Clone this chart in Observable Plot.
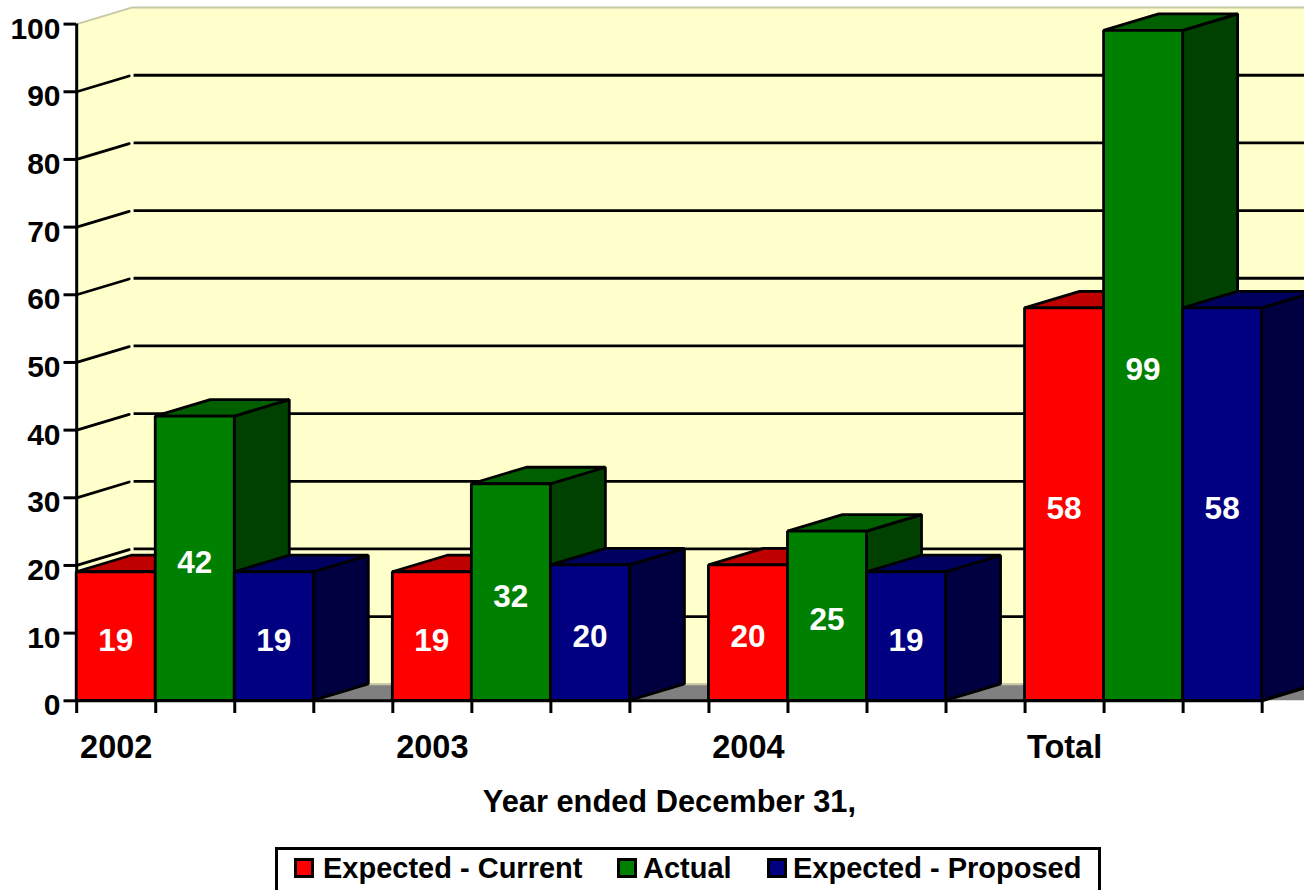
<!DOCTYPE html>
<html><head><meta charset="utf-8">
<script src="https://cdn.jsdelivr.net/npm/d3@7"></script>
<script src="https://cdn.jsdelivr.net/npm/@observablehq/plot@0.6"></script>
<style>
html,body{margin:0;padding:0;background:#fff;overflow:hidden;width:1304px;height:890px}
#chart svg{display:block;font-family:"Liberation Sans",Arial,sans-serif}
#legend{position:absolute;left:275px;top:847px;width:820px;height:40px;border:3px solid #000;border-bottom:none;font:bold 29px "Liberation Sans",Arial,sans-serif;color:#000;white-space:nowrap;background:#fff}
#legend span.s{position:absolute;top:8px;width:14px;height:14px;border:3px solid #000}
#legend span.t{position:absolute;top:2px;line-height:32px}
</style></head><body>
<div id="chart"></div>
<div id="legend"></div>
<script>
const categories = ["2002","2003","2004","Total"];
const seriesNames = ["Expected - Current","Actual","Expected - Proposed"];
const expectedCurrent = [19,19,20,58];
const actual = [42,32,25,99];
const expectedProposed = [19,20,19,58];
const yTicks = [0,10,20,30,40,50,60,70,80,90,100];
const frontColors = ["#ff0000","#008000","#000080"];
const topColors = ["#bf0000","#006000","#000060"];
const sideColors = ["#800000","#004000","#000040"];
const xAxisTitle = "Year ended December 31,";

const slotsPerGroup = 4, depthX = 0.696, depthY = 2.44, slotMax = 16;
const seriesValues = [expectedCurrent, actual, expectedProposed];
const faces = [];
categories.forEach((c, g) => {
  seriesValues.forEach((vals, s) => {
    const l = g*slotsPerGroup + s, r = l + 1, v = vals[g], key = `${g}-${s}`;
    const add = (face, fill, a, b) => {
      faces.push({z:key+face, fill, x1:a[0][0], y1:a[0][1], x2:a[1][0], y2:a[1][1]});
      faces.push({z:key+face, fill, x1:b[0][0], y1:b[0][1], x2:b[1][0], y2:b[1][1]});
    };
    add("side", sideColors[s], [[r,0],[r,v]], [[r+depthX,depthY],[r+depthX,v+depthY]]);
    add("top", topColors[s], [[l,v],[l+depthX,v+depthY]], [[r,v],[r+depthX,v+depthY]]);
    add("front", frontColors[s], [[l,0],[l,v]], [[r,0],[r,v]]);
  });
});
const labels = categories.flatMap((c,g)=>seriesValues.map((vals,s)=>({x:g*slotsPerGroup+s+.5,y:vals[g]/2,t:String(vals[g])})));
const gridTicks = yTicks.filter(t=>t>0&&t<100);
const slant = gridTicks.flatMap(t=>[{t,x:0,y:t},{t,x:depthX*.955,y:t+depthY*.955}]);
const wallEdges = [
  {k:"top",x:0,y:100},{k:"top",x:depthX,y:100+depthY},{k:"top",x:slotMax,y:100+depthY},
  {k:"floor",x:depthX,y:depthY},{k:"floor",x:slotMax,y:depthY}
];

const plot = Plot.plot({
  width:1304,height:846,marginLeft:76,marginRight:0,marginTop:23,marginBottom:146,
  x:{type:"linear",domain:[0,slotMax],range:[76.2,76.2+slotMax*79.03],axis:null},
  y:{type:"linear",domain:[0,100],range:[700.3,23.6],axis:null},
  marks:[
    // walls and floor
    Plot.rect([0],{x1:depthX,x2:slotMax,y1:depthY,y2:100+depthY,fill:"#ffffcc"}),
    Plot.area([{x:0,a:0,b:100},{x:depthX,a:depthY,b:100+depthY}],{x1:"x",y1:"a",y2:"b",fill:"#ffffcc"}),
    Plot.area([{x1:0,y1:0,x2:depthX,y2:depthY},{x1:slotMax,y1:0,x2:slotMax+depthX,y2:depthY}],{x1:"x1",y1:"y1",x2:"x2",y2:"y2",fill:"#808080"}),
    Plot.line(wallEdges,{x:"x",y:"y",z:"k",stroke:"#c8c8a8",strokeWidth:2}),
    // gridlines
    Plot.ruleY(gridTicks,{y:d=>d+depthY,x1:depthX+.03,x2:slotMax,stroke:"#000",strokeWidth:2.8}),
    Plot.line(slant,{x:"x",y:"y",z:"t",stroke:"#000",strokeWidth:2.8}),
    // axis lines
    Plot.ruleX([0],{y1:0,y2:100,stroke:"#000",strokeWidth:3}),
    // bars
    Plot.area(faces,{x1:"x1",y1:"y1",x2:"x2",y2:"y2",z:"z",fill:"fill",stroke:"#000",strokeWidth:2.8,strokeLinejoin:"bevel"}),
    Plot.ruleY([0],{x1:0,x2:15,stroke:"#000",strokeWidth:3}),
    Plot.line([{x:15,y:0},{x:15+depthX,y:depthY}],{x:"x",y:"y",stroke:"#000",strokeWidth:2.8}),
    // value labels
    Plot.text(labels,{x:"x",y:"y",text:"t",fill:"#fff",fontSize:31.5,fontWeight:"bold",dy:4,dx:-0.5}),
    // axes
    Plot.axisY(yTicks,{anchor:"left",tickSize:12.5,strokeWidth:3,label:null,tickFormat:()=>""}),
    Plot.axisY(yTicks,{anchor:"left",tickSize:0,tickPadding:16,label:null,fontSize:30,fontWeight:"bold",fill:"#000",dy:5}),
    Plot.axisX(d3.range(slotMax),{anchor:"bottom",tickSize:13,tickFormat:()=>"",label:null,strokeWidth:3}),
    Plot.text(categories,{x:(d,i)=>i*slotsPerGroup+.5,frameAnchor:"bottom",text:d=>d,dy:57,fontSize:32.5,fontWeight:"bold",fill:"#000"}),
    Plot.text([xAxisTitle],{x:()=>(slotMax-1)/2,frameAnchor:"bottom",text:d=>d,dy:111,fontSize:30.8,fontWeight:"bold",fill:"#000"}),
  ]
});
document.getElementById("chart").appendChild(plot);

const lg = d3.select("#legend");
const sx=[16,339,489], tx=[45,365,515];
seriesNames.forEach((n,i)=>{
  lg.append("span").attr("class","s").style("left",sx[i]+"px").style("background",frontColors[i]);
  lg.append("span").attr("class","t").style("left",tx[i]+"px").text(n);
});
</script>
</body></html>
